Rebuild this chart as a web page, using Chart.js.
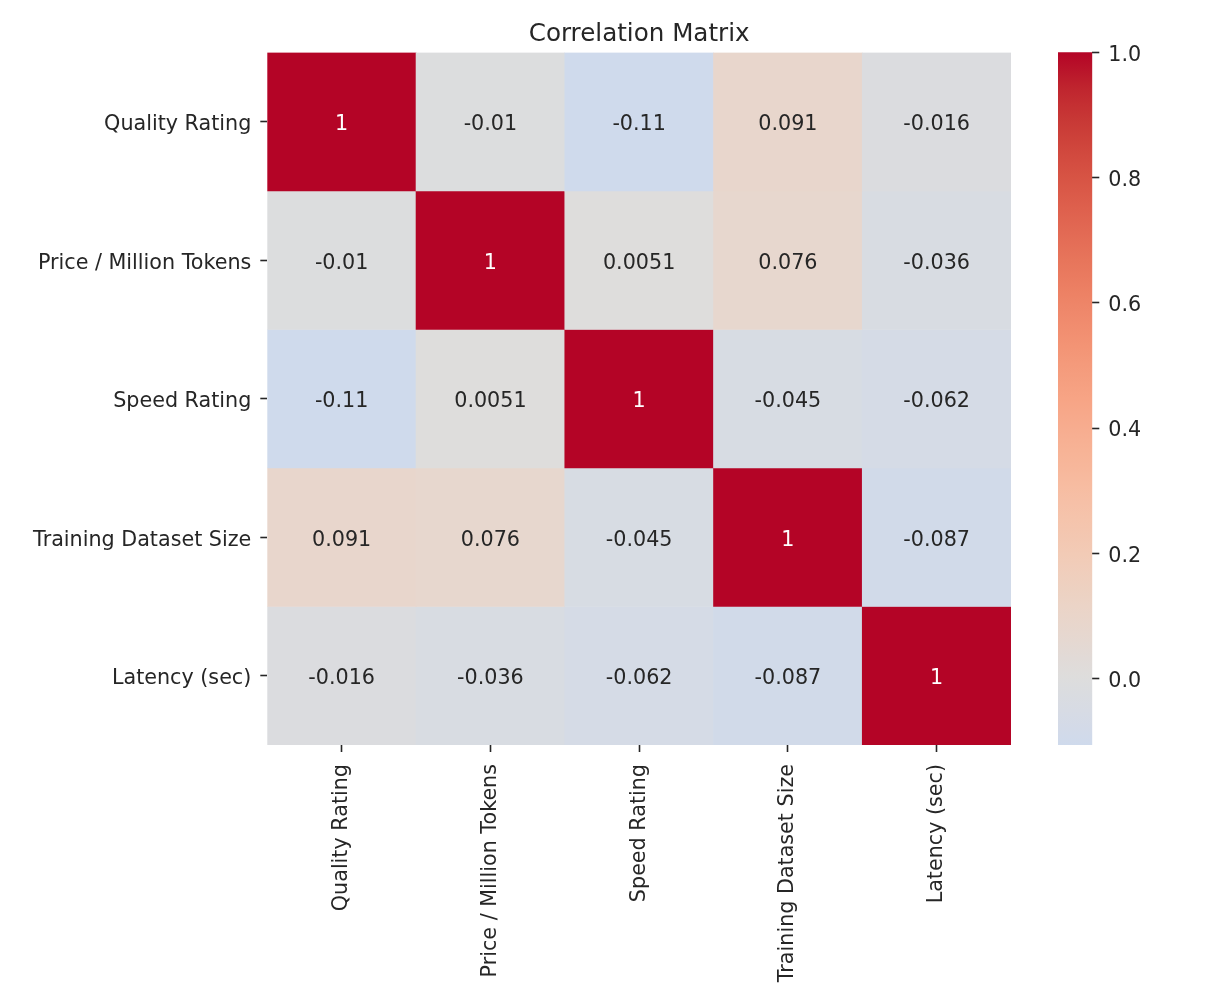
<!DOCTYPE html>
<html>
<head>
<meta charset="utf-8">
<title>Correlation Matrix</title>
<script src="https://cdn.jsdelivr.net/npm/chart.js@4.4.1/dist/chart.umd.min.js"></script>
<style>
    html, body { margin: 0; padding: 0; background: #fff; }
    #wrap { position: relative; width: 1210px; height: 992px; }
    #heatmap { position: absolute; left: 0; top: 0; }
    #colorbar { position: absolute; left: 1000px; top: 0; }
</style>
</head>
<body>
<div id="wrap">
    <canvas id="heatmap" width="1210" height="992"></canvas>
    <canvas id="colorbar" width="210" height="992"></canvas>
</div>
<script>
// categories (same order on both axes)
const labels = ['Quality Rating', 'Price / Million Tokens', 'Speed Rating', 'Training Dataset Size', 'Latency (sec)'];

// correlation matrix, one array per row
const rowQuality  = [1, -0.01, -0.106, 0.091, -0.016];
const rowPrice    = [-0.01, 1, 0.0051, 0.076, -0.036];
const rowSpeed    = [-0.106, 0.0051, 1, -0.045, -0.062];
const rowTraining = [0.091, 0.076, -0.045, 1, -0.087];
const rowLatency  = [-0.016, -0.036, -0.062, -0.087, 1];
const rows = [rowQuality, rowPrice, rowSpeed, rowTraining, rowLatency];

// colorbar tick labels
const colorbarTicks = [0.0, 0.2, 0.4, 0.6, 0.8, 1.0];

const vmin = Math.min(...rows.flat());
const vmax = Math.max(...rows.flat());

const FONT = '"DejaVu Sans", "Liberation Sans", sans-serif';
const TEXT = '#262626';
const FONT_SIZE = 20.7;
Chart.defaults.font.family = FONT;
Chart.defaults.color = TEXT;

// matplotlib "coolwarm" (Moreland table)
const coolwarm = [
    [59,76,192],[68,90,204],[77,104,215],[87,117,225],[98,130,234],[108,142,241],
    [119,154,247],[130,165,251],[141,176,254],[152,185,255],[163,194,255],[174,201,253],
    [184,208,249],[194,213,244],[204,217,238],[213,219,230],[221,221,221],[229,216,209],
    [236,211,197],[241,204,184],[245,196,173],[247,187,160],[247,177,148],[247,166,135],
    [244,154,123],[241,141,111],[236,127,99],[229,112,88],[222,96,77],[213,80,66],
    [203,62,56],[192,40,47],[180,4,38]
];

function cmapRgb(t) {
    t = Math.max(0, Math.min(1, t));
    const pos = t * (coolwarm.length - 1);
    const i = Math.min(Math.floor(pos), coolwarm.length - 2);
    const f = pos - i;
    const a = coolwarm[i], b = coolwarm[i + 1];
    return a.map((ch, k) => Math.round(ch + (b[k] - ch) * f));
}

// seaborn heatmap with center=0: the map spans [-1, 1]
function rgbFor(v) {
    return cmapRgb((v + 1) / 2);
}

function colorFor(v) {
    const c = rgbFor(v);
    return 'rgb(' + c[0] + ',' + c[1] + ',' + c[2] + ')';
}

function textColorFor(v) {
    const lin = rgbFor(v).map(ch => {
        const s = ch / 255;
        return s <= 0.03928 ? s / 12.92 : Math.pow((s + 0.055) / 1.055, 2.4);
    });
    const lum = 0.2126 * lin[0] + 0.7152 * lin[1] + 0.0722 * lin[2];
    return lum < 0.408 ? '#ffffff' : TEXT;
}

// like python's '.2g'
function fmt(v) {
    return parseFloat(v.toPrecision(2)).toString();
}

const cellText = {
    id: 'cellText',
    afterDatasetsDraw(chart) {
        const ctx = chart.ctx;
        ctx.save();
        ctx.font = FONT_SIZE + 'px ' + FONT;
        ctx.textAlign = 'center';
        ctx.textBaseline = 'middle';
        rows.forEach((row, r) => {
            chart.getDatasetMeta(r).data.forEach((bar, c) => {
                ctx.fillStyle = textColorFor(row[c]);
                ctx.fillText(fmt(row[c]), bar.x, (bar.y + bar.base) / 2 + 3);
            });
        });
        ctx.restore();
    }
};

const tickGrid = {
    drawOnChartArea: false,
    drawTicks: true,
    tickLength: 7,
    tickWidth: 1.6,
    tickColor: TEXT,
    offset: false
};

new Chart(document.getElementById('heatmap'), {
    type: 'bar',
    data: {
        labels: labels,
        datasets: rows.map((row, r) => ({
            label: labels[r],
            data: row.map(() => [r, r + 1]),
            grouped: false,
            barPercentage: 1,
            categoryPercentage: 1,
            borderWidth: 0,
            backgroundColor: ctx => colorFor(row[ctx.dataIndex])
        }))
    },
    options: {
        responsive: false,
        animation: false,
        layout: { padding: { left: 0, right: 199, top: 0, bottom: 0 } },
        plugins: {
            legend: { display: false },
            tooltip: { enabled: false },
            title: {
                display: true,
                text: 'Correlation Matrix',
                fullSize: false,
                color: TEXT,
                font: { size: 24.6, weight: 'normal', family: FONT },
                padding: { top: 20, bottom: 3 }
            }
        },
        scales: {
            x: {
                type: 'category',
                offset: true,
                grid: tickGrid,
                border: { display: false },
                ticks: {
                    autoSkip: false,
                    minRotation: 90,
                    maxRotation: 90,
                    padding: 12,
                    color: TEXT,
                    font: { size: FONT_SIZE }
                },
                afterFit: scale => { scale.height = 247; }
            },
            y: {
                type: 'linear',
                min: 0,
                max: labels.length,
                reverse: true,
                stacked: false,
                grid: tickGrid,
                border: { display: false },
                afterBuildTicks: scale => {
                    scale.ticks = labels.map((_, i) => ({ value: i + 0.5 }));
                },
                ticks: {
                    autoSkip: false,
                    padding: 9,
                    labelOffset: 3,
                    color: TEXT,
                    font: { size: FONT_SIZE },
                    callback: value => labels[Math.floor(value)]
                },
                afterFit: scale => { scale.width = 267.3; }
            }
        }
    },
    plugins: [cellText]
});

// colorbar
const gradientFill = ctx => {
    const chart = ctx.chart;
    if (!chart.chartArea) return colorFor(vmax);
    const y = chart.scales.y;
    const y0 = y.getPixelForValue(vmin);
    const y1 = y.getPixelForValue(vmax);
    const g = chart.ctx.createLinearGradient(0, y0, 0, y1);
    const steps = 40;
    for (let i = 0; i <= steps; i++) {
        g.addColorStop(i / steps, colorFor(vmin + (vmax - vmin) * i / steps));
    }
    return g;
};

new Chart(document.getElementById('colorbar'), {
    type: 'bar',
    data: {
        labels: [''],
        datasets: [{
            data: [[vmin, vmax]],
            barPercentage: 1,
            categoryPercentage: 1,
            borderWidth: 0,
            backgroundColor: gradientFill
        }]
    },
    options: {
        responsive: false,
        animation: false,
        layout: { padding: { left: 58, right: 0, top: 52.3, bottom: 247 } },
        plugins: {
            legend: { display: false },
            tooltip: { enabled: false }
        },
        scales: {
            x: { display: false },
            y: {
                position: 'right',
                min: vmin,
                max: vmax,
                grid: { drawOnChartArea: false, drawTicks: true, tickLength: 7, tickWidth: 1.6, tickColor: TEXT },
                border: { display: false },
                afterBuildTicks: scale => {
                    scale.ticks = colorbarTicks.map(v => ({ value: v }));
                },
                ticks: {
                    padding: 9,
                    labelOffset: 3,
                    color: TEXT,
                    font: { size: FONT_SIZE },
                    callback: value => Number(value).toFixed(1)
                },
                afterFit: scale => { scale.width = 117.7; }
            }
        }
    }
});
</script>
</body>
</html>
